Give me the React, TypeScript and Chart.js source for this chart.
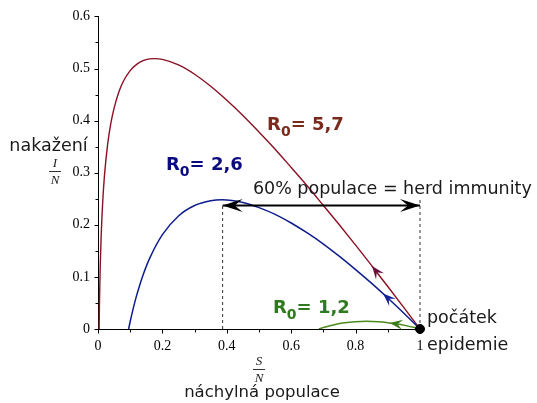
import React, { useEffect, useRef } from 'react';
import { Chart, registerables } from 'chart.js';
Chart.register(...registerables);

// Axis ticks
const X_TICKS = [0, 0.2, 0.4, 0.6, 0.8, 1];
const X_MINOR = [0.1, 0.3, 0.5, 0.7, 0.9];
const Y_TICKS = [0, 0.1, 0.2, 0.3, 0.4, 0.5, 0.6];
const Y_MINOR = [0.05, 0.15, 0.25, 0.35, 0.45, 0.55];

// R0 = 5,7 trajectory (S/N, I/N)
const R57_S = [0.0036, 0.0045, 0.005, 0.007, 0.01, 0.015, 0.02, 0.03, 0.04, 0.05, 0.065, 0.08, 0.1, 0.12, 0.14, 0.16, 0.175, 0.2, 0.25, 0.3, 0.35, 0.4, 0.45, 0.5, 0.55, 0.6, 0.65, 0.7, 0.75, 0.8, 0.85, 0.9, 0.95, 1];
const R57_I = [0, 0.0475, 0.0655, 0.1225, 0.182, 0.248, 0.294, 0.355, 0.395, 0.424, 0.4555, 0.477, 0.496, 0.508, 0.515, 0.5185, 0.519, 0.5176, 0.5068, 0.489, 0.4658, 0.439, 0.4099, 0.378, 0.3451, 0.31, 0.2744, 0.237, 0.1995, 0.161, 0.1215, 0.0815, 0.041, 0];

// R0 = 2,6 trajectory
const R26_S = [0.095, 0.1, 0.11, 0.12, 0.13, 0.14, 0.16, 0.2, 0.25, 0.3, 0.35, 0.385, 0.45, 0.5, 0.55, 0.6, 0.65, 0.7, 0.75, 0.8, 0.85, 0.9, 0.95, 1];
const R26_I = [0, 0.0144, 0.041, 0.0645, 0.085, 0.1038, 0.135, 0.181, 0.217, 0.237, 0.2462, 0.248, 0.243, 0.233, 0.2201, 0.2035, 0.1843, 0.163, 0.1393, 0.114, 0.0875, 0.0595, 0.0303, 0];

// R0 = 1,2 trajectory
const R12_S = [0.686, 0.7, 0.72, 0.74, 0.76, 0.8, 0.833, 0.87, 0.9, 0.92, 0.96, 0.98, 1];
const R12_I = [0, 0.0028, 0.0062, 0.0091, 0.0113, 0.0141, 0.0148, 0.0139, 0.0122, 0.0105, 0.006, 0.0032, 0];

// Herd immunity markers
const HERD_S = [0.387, 1];
const HERD_I = 0.237;
const HERD_TOP_RIGHT = 0.25;
const START_POINT = { x: 1, y: 0 };

const pts = (xs: number[], ys: number[]) => xs.map((v, i) => ({ x: v, y: ys[i] }));

const RED = '#8a1022';
const BLUE = '#0f1d8c';
const GREEN = '#4b8a1c';

function stealth(ctx: CanvasRenderingContext2D, tx: number, ty: number, dx: number, dy: number, L: number, W: number, color: string) {
  const len = Math.hypot(dx, dy) || 1;
  const ux = dx / len, uy = dy / len;
  const nx = -uy, ny = ux;
  ctx.beginPath();
  ctx.moveTo(tx, ty);
  ctx.lineTo(tx - L * ux + W * nx, ty - L * uy + W * ny);
  ctx.lineTo(tx - 0.6 * L * ux, ty - 0.6 * L * uy);
  ctx.lineTo(tx - L * ux - W * nx, ty - L * uy - W * ny);
  ctx.closePath();
  ctx.fillStyle = color;
  ctx.fill();
}

const annotPlugin = {
  id: 'annot',
  afterDraw(chart: any) {
    const { ctx } = chart;
    const xs = chart.scales.x, ys = chart.scales.y;
    const px = (v: number) => xs.getPixelForValue(v);
    const py = (v: number) => ys.getPixelForValue(v);
    ctx.save();
    // ticks
    ctx.strokeStyle = '#000';
    ctx.lineWidth = 1;
    const ax = Math.round(px(0)) + 0.5;
    const ay = Math.round(py(0)) + 0.5;
    const tick = (list: number[], len: number, horiz: boolean) => {
      list.forEach((v) => {
        ctx.beginPath();
        if (horiz) {
          const p = Math.round(px(v)) + 0.5;
          ctx.moveTo(p, ay);
          ctx.lineTo(p, ay + len);
        } else {
          const p = Math.round(py(v)) + 0.5;
          ctx.moveTo(ax, p);
          ctx.lineTo(ax - len, p);
        }
        ctx.stroke();
      });
    };
    tick(X_TICKS, 4, true);
    tick(X_MINOR, 3, true);
    tick(Y_TICKS, 4, false);
    tick(Y_MINOR, 3, false);

    // curve arrowheads (direction of decreasing S)
    const curveArrow = (S: number[], I: number[], at: number, color: string) => {
      for (let i = 0; i < S.length - 1; i++) {
        if (at >= S[i] && at <= S[i + 1]) {
          const t = (at - S[i]) / (S[i + 1] - S[i]);
          const yv = I[i] + t * (I[i + 1] - I[i]);
          const dx = px(S[i]) - px(S[i + 1]);
          const dy = py(I[i]) - py(I[i + 1]);
          stealth(ctx, px(at), py(yv), dx, dy, 13, 5, color);
          return;
        }
      }
    };
    curveArrow(R57_S, R57_I, 0.851, '#6b0f3e');
    curveArrow(R26_S, R26_I, 0.885, '#13209c');
    curveArrow(R12_S, R12_I, 0.906, '#3a7a1a');

    // herd immunity arrowheads
    const hy = py(HERD_I);
    stealth(ctx, px(HERD_S[0]), hy, -1, 0, 20, 6.5, '#000');
    stealth(ctx, px(HERD_S[1]), hy, 1, 0, 20, 6.5, '#000');

    // R0 labels
    const r0 = (rest: string, xv: number, yv: number, color: string) => {
      let x = px(xv);
      const y = py(yv);
      ctx.fillStyle = color;
      ctx.textAlign = 'left';
      ctx.textBaseline = 'alphabetic';
      ctx.font = 'bold 18px "DejaVu Sans"';
      ctx.fillText('R', x, y);
      x += ctx.measureText('R').width;
      ctx.font = 'bold 14px "DejaVu Sans"';
      ctx.fillText('0', x, y + 6);
      x += ctx.measureText('0').width;
      ctx.font = 'bold 18px "DejaVu Sans"';
      ctx.fillText(rest, x, y);
    };
    r0('= 5,7', 0.525, 0.3816, '#7a2a1c');
    r0('= 2,6', 0.211, 0.3057, '#0b0b80');
    r0('= 1,2', 0.5435, 0.0304, '#2f7a1e');

    ctx.fillStyle = '#1a1a1a';
    ctx.font = '17.5px "DejaVu Sans"';
    ctx.textAlign = 'left';
    ctx.fillText('60% populace = herd immunity', px(0.481), py(0.2582));
    ctx.fillText('počátek', px(1) + 7, py(0) - 6);
    ctx.fillText('epidemie', px(1) + 7, py(0) + 21);

    // axis labels
    ctx.textAlign = 'center';
    ctx.font = '17.5px "DejaVu Sans"';
    ctx.fillText('nakažení', px(0) - 49.5, 151);
    ctx.font = '16.5px "DejaVu Sans"';
    ctx.fillText('náchylná populace', (px(0) + px(1)) / 2 + 3, py(0) + 68);

    const frac = (top: string, bot: string, cx: number, yTop: number) => {
      ctx.font = 'italic 13px "Liberation Serif"';
      ctx.textAlign = 'center';
      ctx.fillStyle = '#222';
      ctx.fillText(top, cx, yTop);
      ctx.beginPath();
      ctx.strokeStyle = '#333';
      ctx.moveTo(cx - 6, yTop + 4.5);
      ctx.lineTo(cx + 6, yTop + 4.5);
      ctx.stroke();
      ctx.fillText(bot, cx, yTop + 17);
    };
    frac('I', 'N', 55, 167);
    frac('S', 'N', (px(0) + px(1)) / 2, py(0) + 36);
    ctx.restore();
  },
};

export default function App() {
  const ref = useRef<HTMLCanvasElement>(null);
  useEffect(() => {
    if (!ref.current) return;
    const chart = new Chart(ref.current, {
      type: 'scatter',
      data: {
        datasets: [
          {
            data: [START_POINT],
            pointRadius: 4.5,
            pointBackgroundColor: '#000',
            pointBorderColor: '#000',
            showLine: false,
            clip: false as any,
          },
          {
            data: HERD_S.map((v) => ({ x: v, y: HERD_I })),
            showLine: true,
            borderColor: '#000',
            borderWidth: 2,
            pointRadius: 0,
            clip: false as any,
          },
          {
            data: [{ x: HERD_S[0], y: 0 }, { x: HERD_S[0], y: HERD_I }],
            showLine: true,
            borderColor: '#333',
            borderWidth: 1,
            borderDash: [3, 3],
            pointRadius: 0,
          },
          {
            data: [{ x: HERD_S[1], y: 0 }, { x: HERD_S[1], y: HERD_TOP_RIGHT }],
            showLine: true,
            borderColor: '#333',
            borderWidth: 1,
            borderDash: [3, 3],
            pointRadius: 0,
            clip: false as any,
          },
          {
            data: pts(R12_S, R12_I),
            showLine: true,
            borderColor: GREEN,
            borderWidth: 1.5,
            pointRadius: 0,
            cubicInterpolationMode: 'monotone',
          },
          {
            data: pts(R26_S, R26_I),
            showLine: true,
            borderColor: BLUE,
            borderWidth: 1.5,
            pointRadius: 0,
            cubicInterpolationMode: 'monotone',
          },
          {
            data: pts(R57_S, R57_I),
            showLine: true,
            borderColor: RED,
            borderWidth: 1.4,
            pointRadius: 0,
            cubicInterpolationMode: 'monotone',
          },
        ] as any,
      },
      options: {
        animation: false,
        responsive: false,
        devicePixelRatio: 1,
        events: [],
        layout: { padding: { left: 58, right: 117, top: 13, bottom: 44 } },
        plugins: { legend: { display: false }, tooltip: { enabled: false } },
        scales: {
          x: {
            type: 'linear',
            min: 0,
            max: 1,
            afterFit: (s: any) => { s.height = 30; },
            afterBuildTicks: (s: any) => { s.ticks = X_TICKS.map((v) => ({ value: v })); },
            grid: { display: false, drawTicks: false },
            border: { display: true, color: '#000', width: 1 },
            ticks: {
              padding: 9,
              color: '#000',
              font: { family: '"Liberation Serif"', size: 14 },
              callback: (v: any) => String(v),
            },
          },
          y: {
            type: 'linear',
            min: 0,
            max: 0.6,
            afterFit: (s: any) => { s.width = 40; },
            afterBuildTicks: (s: any) => { s.ticks = Y_TICKS.map((v) => ({ value: v })); },
            grid: { display: false, drawTicks: false },
            border: { display: true, color: '#000', width: 1 },
            ticks: {
              padding: 8,
              color: '#000',
              font: { family: '"Liberation Serif"', size: 14 },
              callback: (v: any) => String(v),
            },
          },
        },
      },
      plugins: [annotPlugin],
    });
    return () => chart.destroy();
  }, []);
  return (
    <div style={{ position: 'fixed', left: 0, top: 0, width: 537, height: 403, background: '#fff' }}>
      <canvas ref={ref} width={537} height={403} style={{ display: 'block' }} />
    </div>
  );
}
